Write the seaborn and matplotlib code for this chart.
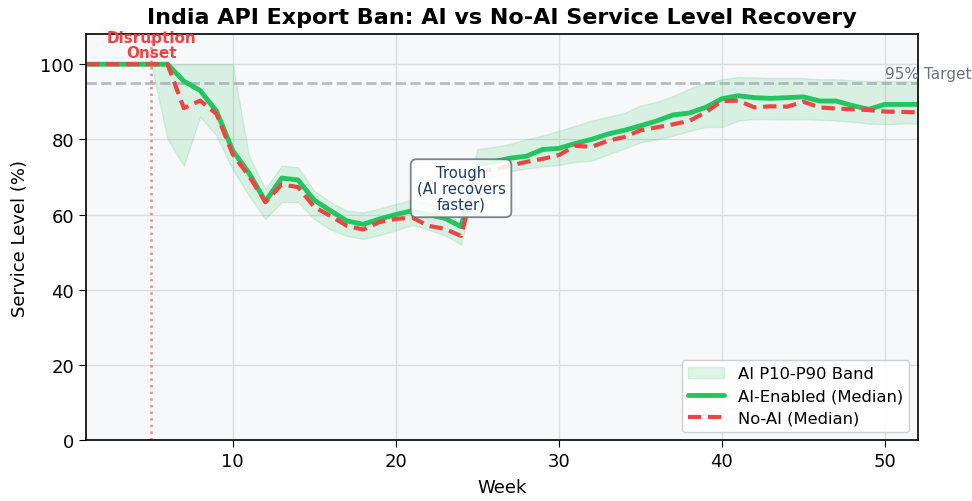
import numpy as np
import pandas as pd
import matplotlib
matplotlib.use("Agg")
import matplotlib.pyplot as plt
import seaborn as sns

weeks = list(range(1, 53))
ai_median = [100, 100, 100, 100, 100, 100, 95.5, 93, 87.5, 77, 71, 63.5, 69.7, 69.2, 63.8, 61, 58.3, 57.4, 58.8, 60,
             61, 60, 59, 56.8, 73.4, 74, 75, 75.5, 77.3, 77.6, 78.9, 80, 81.4, 82.4, 83.6, 84.9, 86.5, 87, 88.5, 90.8,
             91.6, 91.1, 90.9, 91.1, 91.3, 90.2, 90.2, 89, 88, 89.3, 89.3, 89.3]
noai_median = [100, 100, 100, 100, 100, 100, 88.3, 90.3, 86.8, 76, 70.2, 63.3, 68, 67.3, 62, 59.6, 57, 56, 58, 58.8,
               59.2, 57, 56.2, 54.3, 71.3, 72, 73, 74, 74.8, 75.8, 78.3, 78, 79.6, 80.6, 82.4, 83.2, 84, 84.9, 87.2, 90.2,
               90.3, 88.5, 88.8, 88.7, 90, 88.5, 88.2, 88, 87.8, 87.4, 87.3, 87.2]
ai_p90 = [100, 100, 100, 100, 100, 100, 100, 100, 100, 100, 75.5, 66.8, 73, 72.6, 66.3, 63.3, 61, 60.6, 61.6, 62.8,
          64, 63, 61.5, 57.5, 77.4, 78, 78.8, 80, 81, 82.3, 83.6, 85, 86, 87, 89, 90, 91.5, 93.5, 95, 96,
          96.6, 96.5, 96.3, 96.3, 96.3, 96, 96, 95.7, 95.5, 95.5, 95.5, 95.5]
ai_p10 = [100, 100, 100, 100, 100, 80, 73, 86, 81, 72, 65, 58.8, 63.3, 63.3, 58.8, 56, 54.3, 53.5, 54.5, 55.8,
          57.2, 56, 54.5, 52, 68.6, 70, 71.5, 72.2, 72.8, 73.2, 74, 74.3, 76, 77.5, 79.2, 80, 81, 82.2, 83.3, 83.3,
          85, 85.4, 85.4, 85.3, 85.4, 85.2, 85, 84.7, 84.2, 84, 84.2, 84.2]

target = 95
disruption_week = 5

df = pd.DataFrame({"Week": weeks, "AI": ai_median, "NoAI": noai_median, "P10": ai_p10, "P90": ai_p90})

sns.set_style("whitegrid")
plt.rcParams["font.family"] = ["DejaVu Sans"]
plt.rcParams["text.color"] = "black"
plt.rcParams["axes.labelcolor"] = "black"
plt.rcParams["xtick.color"] = "black"
plt.rcParams["ytick.color"] = "black"

GREEN = "#22c55e"
RED = "#ef4444"

fig = plt.figure(figsize=(9.72, 5.02), dpi=100)
ax = fig.add_axes([0.0885, 0.1215, 0.8555, 0.8085])
ax.set_facecolor("#f7f8fa")

ax.fill_between(df["Week"], df["P10"], df["P90"], color=GREEN, alpha=0.15, label="AI P10-P90 Band", linewidth=1)
sns.lineplot(data=df, x="Week", y="AI", ax=ax, color=GREEN, linewidth=3.5, label="AI-Enabled (Median)")
sns.lineplot(data=df, x="Week", y="NoAI", ax=ax, color=RED, linewidth=3, linestyle=(0, (3.2, 1.6)),
             label="No-AI (Median)")

ax.axhline(target, color="#9ca3af", linestyle="--", linewidth=2, alpha=0.7, zorder=1)
ax.text(50, target + 0.6, "95% Target", color="#6b7280", fontsize=11, ha="left", va="bottom")

ax.axvline(disruption_week, color=RED, linestyle=":", linewidth=1.8, alpha=0.6, zorder=1)
ax.text(disruption_week, 101.2, "Disruption\nOnset", color=RED, fontsize=11, fontweight="bold",
        ha="center", va="bottom", linespacing=0.95)

ax.text(24, 67, "Trough\n(AI recovers\nfaster)", color="#1e3a5f", fontsize=10.6, ha="center", va="center",
        linespacing=1.05,
        bbox=dict(boxstyle="round,pad=0.4", facecolor="white", edgecolor="#6b7280", linewidth=1.3, alpha=0.88),
        zorder=5)

ax.set_xlim(1, 52)
ax.set_ylim(0, 108)
ax.set_xticks([10, 20, 30, 40, 50])
ax.set_yticks([0, 20, 40, 60, 80, 100])
ax.tick_params(axis="both", labelsize=13, length=5, color="black", bottom=True, left=True)
ax.set_xlabel("Week", fontsize=13, labelpad=6)
ax.set_ylabel("Service Level (%)", fontsize=13, labelpad=8)
ax.set_title("India API Export Ban: AI vs No-AI Service Level Recovery", fontsize=16, fontweight="bold", pad=8,
             color="black")

ax.grid(True, color="#dcdde1", linewidth=1)
for s in ax.spines.values():
    s.set_color("black")
    s.set_linewidth(1.2)

leg = ax.legend(loc="lower right", fontsize=11.8, frameon=True, framealpha=0.9, edgecolor="#cccccc",
                handlelength=2.2, labelspacing=0.42)

fig.savefig("out.png", dpi=100)
